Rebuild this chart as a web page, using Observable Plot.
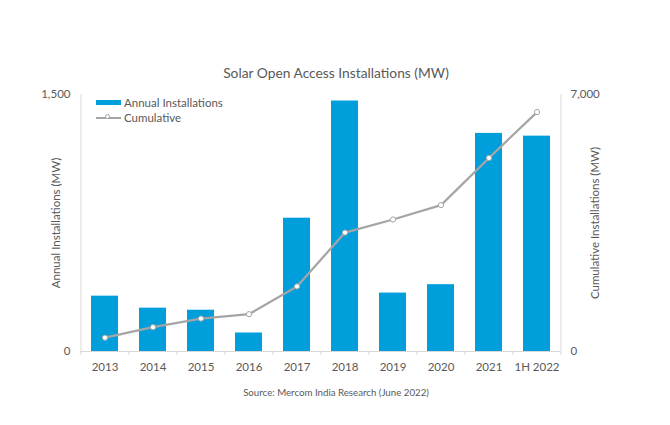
<!DOCTYPE html>
<html>
<head>
<meta charset="utf-8">
<script src="https://cdn.jsdelivr.net/npm/d3@7"></script>
<script src="https://cdn.jsdelivr.net/npm/@observablehq/plot@0.6"></script>
<style>
  html, body { margin: 0; padding: 0; background: #fff; }
  #wrap { position: relative; width: 670px; padding-top: 63px; font-family: Lato, "Open Sans", sans-serif; color: #595959; }
  #title { height: 20px; line-height: 20px; text-align: center; font-size: 13.8px; padding-left: 2px; }
  #source { margin-top: 12px; line-height: 14px; text-align: center; font-size: 9.7px; padding-left: 2px; }
  #legend { position: absolute; left: 96px; top: 95px; font-size: 11.5px; }
  .row { display: flex; align-items: center; height: 15px; }
  .sw { width: 25px; height: 5px; background: #009fdb; margin-right: 3px; }
  .ln { position: relative; width: 25px; height: 2px; background: #a5a5a5; margin-right: 3px; }
  .ln span { position: absolute; left: 9px; top: -2.5px; width: 5px; height: 5px; border-radius: 50%; background: #fff; border: 1px solid #a5a5a5; box-sizing: border-box; }
</style>
</head>
<body>
<div id="wrap">
  <div id="title">Solar Open Access Installations (MW)</div>
  <div id="chart"></div>
  <div id="source">Source: Mercom India Research (June 2022)</div>
  <div id="legend">
    <div class="row"><div class="sw"></div>Annual Installations</div>
    <div class="row"><div class="ln"><span></span></div>Cumulative</div>
  </div>
</div>
<script>
const years = ["2013", "2014", "2015", "2016", "2017", "2018", "2019", "2020", "2021", "1H 2022"];
const annual = [323, 253, 241, 108, 778, 1462, 341, 390, 1273, 1257];
const cumulative = [377, 662, 897, 1017, 1772, 3240, 3596, 3987, 5272, 6521];
const leftTicks = [0, 1500];
const rightTicks = [0, 7000];
const leftMax = 1500, rightMax = 7000;

const k = leftMax / rightMax;
const data = years.map((y, i) => ({year: y, annual: annual[i], cum: cumulative[i], cumScaled: cumulative[i] * k}));
const fmt = d3.format(",");
const axisColor = "#d9d9d9";

const chart = Plot.plot({
  width: 670,
  height: 290,
  marginTop: 11,
  marginBottom: 22,
  marginLeft: 80,
  marginRight: 110,
  style: {fontFamily: "Lato, 'Open Sans', sans-serif", fontSize: "11px", color: "#595959", background: "transparent"},
  x: {domain: years, paddingInner: 0.44, paddingOuter: 0.22, axis: null},
  y: {domain: [0, leftMax], axis: null},
  marks: [
    Plot.ruleY([0], {stroke: axisColor}),
    Plot.ruleX([years[0]], {x: d => d, dx: -24, y1: 0, y2: leftMax, stroke: axisColor}),
    Plot.ruleX([years[years.length - 1]], {x: d => d, dx: 24, y1: 0, y2: leftMax, stroke: axisColor}),
    Plot.ruleX(years, {x: d => d, dx: -24, y1: 0, y2: -leftMax * 4 / 256, stroke: axisColor}),
    Plot.ruleX([years[years.length - 1]], {x: d => d, dx: 24, y1: 0, y2: -leftMax * 4 / 256, stroke: axisColor}),
    Plot.barY(data, {x: "year", y: "annual", fill: "#009fdb"}),
    Plot.line(data, {x: "year", y: "cumScaled", stroke: "#a5a5a5", strokeWidth: 2.25}),
    Plot.dot(data, {x: "year", y: "cumScaled", r: 2.6, fill: "white", stroke: "#a5a5a5", strokeWidth: 1}),
    Plot.axisX({tickSize: 0, tickPadding: 11, label: null, fontSize: 11.5}),
    Plot.axisY({anchor: "left", ticks: leftTicks, tickFormat: fmt, tickSize: 0, tickPadding: 10, fontSize: 11.5,
      label: "Annual Installations (MW)", labelAnchor: "center", labelArrow: "none", labelOffset: 29}),
    Plot.axisY({anchor: "right", ticks: rightTicks.map(v => v * k), tickFormat: d => fmt(Math.round(d / k)), tickSize: 0, tickPadding: 10, fontSize: 11.5,
      label: "Cumulative Installations (MW)", labelAnchor: "center", labelArrow: "none", labelOffset: 38})
  ]
});
document.getElementById("chart").appendChild(chart);
</script>
</body>
</html>
